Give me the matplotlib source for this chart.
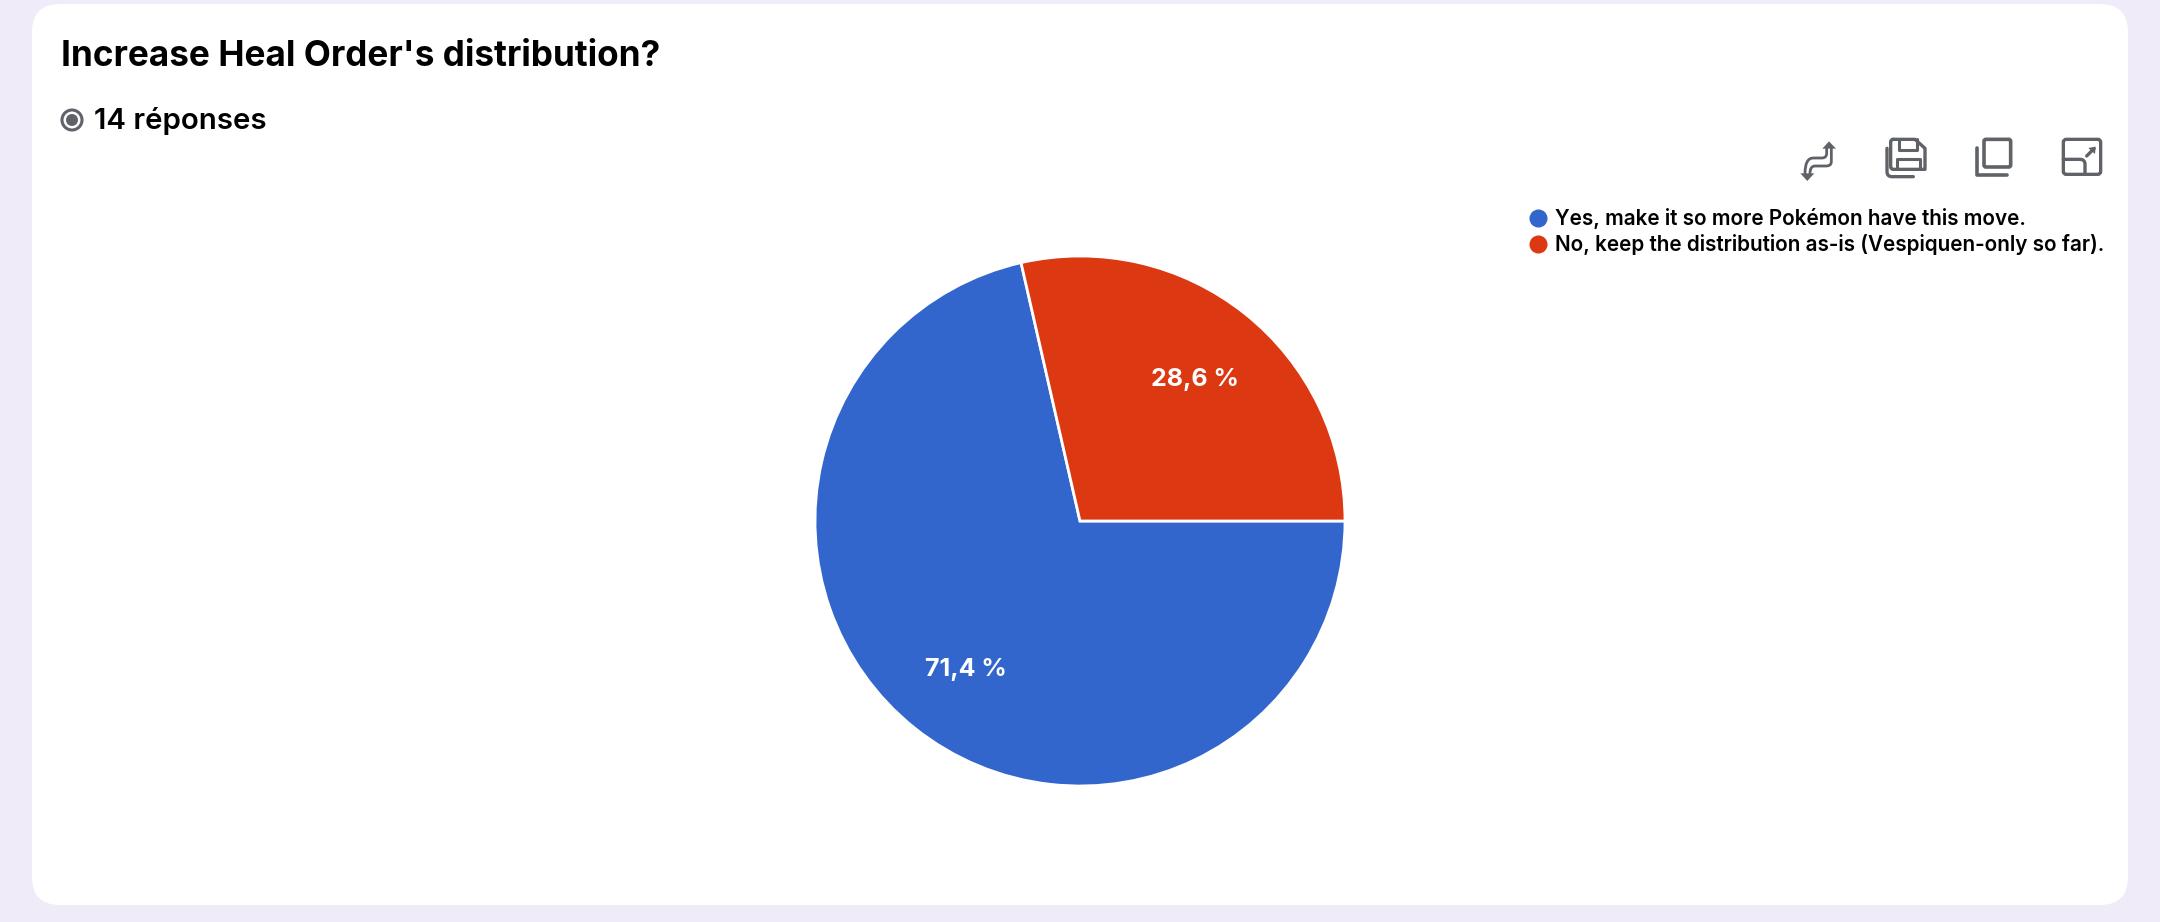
import matplotlib
matplotlib.use('Agg')
import matplotlib.pyplot as plt
from matplotlib.lines import Line2D
from matplotlib.patches import FancyBboxPatch, Circle, PathPatch, Polygon
from matplotlib.path import Path

plt.rcParams['font.family'] = ['Inter', 'DejaVu Sans']

W, H = 2160, 922

title = "Increase Heal Order's distribution?"
subtitle = "14 réponses"
labels = ["Yes, make it so more Pokémon have this move.",
          "No, keep the distribution as-is (Vespiquen-only so far)."]
counts = [10, 4]
pct_labels = ["71,4 %", "28,6 %"]
colors = ["#3366cc", "#dc3912"]

BG = "#efebf9"
GREY = "#5f6368"

fig = plt.figure(figsize=(W / 100, H / 100), dpi=100, facecolor=BG)

# page layer in pixel coords
page = fig.add_axes([0, 0, 1, 1])
page.set_xlim(0, W)
page.set_ylim(H, 0)
page.axis('off')

page.add_patch(FancyBboxPatch((32 + 28, 4 + 28), 2096 - 56, 901 - 56,
                              boxstyle="round,pad=28,rounding_size=28",
                              fc='white', ec='none'))

page.text(61, 56, title, fontsize=25.3, fontweight='bold', color='black', va='center', ha='left')
page.text(94, 121, subtitle, fontsize=21.2, fontweight='semibold', color='black', va='center', ha='left')
page.add_patch(Circle((72, 120), 10, fc='none', ec=GREY, lw=2.2))
page.add_patch(Circle((72, 120), 6, fc=GREY, ec='none'))


# toolbar icons, points taken from the 3x zoom of the 400x140 crop
def z(x, y):
    return 1760 + x / 3, 120 + y / 3


def stroke(pts, codes=None, lw=2.2):
    page.add_patch(PathPatch(Path([z(*p) for p in pts], codes), fc='none', ec=GREY, lw=lw,
                             capstyle='round', joinstyle='round'))


C = Path.CURVE3
M = Path.MOVETO
L = Path.LINETO

# swap arrows
page.add_patch(Polygon([z(187, 86), z(228, 86), z(207, 64)], fc=GREY, ec='none'))
page.add_patch(Polygon([z(121, 160), z(163, 160), z(142, 183)], fc=GREY, ec='none'))
stroke([(214, 86), (214, 125), (214, 138), (198, 138), (165, 138), (150, 138), (150, 160)],
       [M, L, C, C, L, C, C], lw=2.0)
stroke([(200, 86), (200, 100), (200, 114), (185, 114), (160, 114), (135, 114), (135, 160)],
       [M, L, C, C, L, C, C], lw=2.0)

# save
stroke([(400, 58), (465, 58), (495, 85), (495, 148), (400, 148), (392, 148), (392, 140), (392, 66), (392, 58), (400, 58)],
       [M, L, L, L, L, C, C, L, C, C], lw=2.4)
stroke([(418, 58), (418, 90), (470, 90), (470, 58)], lw=2.2)
stroke([(412, 148), (412, 118), (480, 118), (480, 148)], lw=2.2)
stroke([(381, 85), (381, 155), (381, 170), (396, 170), (460, 170)], [M, L, C, C, L], lw=2.4)

# copy
page.add_patch(FancyBboxPatch(z(672, 58), 80 / 3, 83 / 3, boxstyle="round,pad=0,rounding_size=2",
                              fc='none', ec=GREY, lw=2.6))
stroke([(652, 85), (652, 164), (740, 164)], lw=2.6)

# expand
page.add_patch(FancyBboxPatch(z(910, 58), 112 / 3, 105 / 3, boxstyle="round,pad=0,rounding_size=3",
                              fc='none', ec=GREY, lw=2.4))
stroke([(910, 118), (960, 118), (975, 118), (975, 133), (975, 163)], [M, L, C, C, L], lw=2.4)
stroke([(980, 108), (1002, 86)], lw=2.4)
page.add_patch(Polygon([z(985, 84), z(1007, 80), z(1005, 102)], fc=GREY, ec='none'))

# pie axes: centre at (1080, 521), radius 265 px
cx, cy, r = 1080, 521, 265
ax = fig.add_axes([(cx - r) / W, 1 - (cy + r) / H, 2 * r / W, 2 * r / H])
wedges, _ = ax.pie(counts, colors=colors, startangle=0, counterclock=False, radius=1,
                   wedgeprops={'edgecolor': 'white', 'linewidth': 2.0})
ax.set_xlim(-1, 1)
ax.set_ylim(-1, 1)
for w in wedges:
    w.set_clip_on(False)

# percent labels
ax.text(-0.43, -0.56, pct_labels[0], color='white', fontsize=18, fontweight='bold', ha='center', va='center')
ax.text(0.433, 0.535, pct_labels[1], color='white', fontsize=18, fontweight='bold', ha='center', va='center')

handles = [Line2D([], [], ls='none', marker='o', ms=13, mfc=c, mec='none') for c in colors]
leg = fig.legend(handles, labels, loc='upper left', bbox_to_anchor=(1521 / W, 1 - 208 / H),
                 bbox_transform=fig.transFigure, frameon=False, fontsize=14.9,
                 labelspacing=0.24, handletextpad=0.03, borderpad=0, borderaxespad=0, handlelength=1.6)
for t in leg.get_texts():
    t.set_fontweight('semibold')
    t.set_color('black')

fig.savefig('out.png', dpi=100, facecolor=BG)
